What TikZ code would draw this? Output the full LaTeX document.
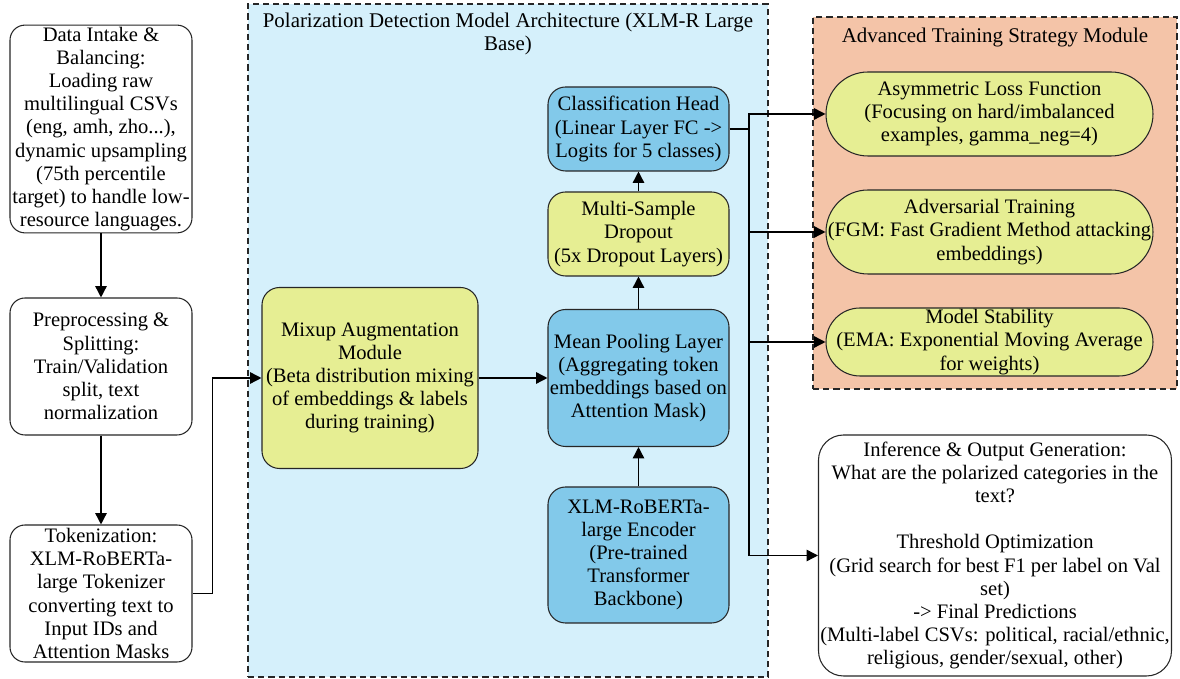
\documentclass[tikz,border=0pt]{standalone}
\usepackage{fontspec}
\setmainfont{Liberation Serif}
\usetikzlibrary{arrows.meta}

\definecolor{zoneblue}{RGB}{213,240,251}
\definecolor{layerblue}{RGB}{130,201,234}
\definecolor{layeryellow}{RGB}{230,238,147}
\definecolor{zoneorange}{RGB}{244,196,168}

\tikzset{
  stage/.style={draw=black!85, line width=0.6pt, rounded corners=0.3cm, fill=white,
    align=center, inner sep=1pt, font=\fontsize{11.7}{13.2}\selectfont},
  bluebox/.style={stage, fill=layerblue, rounded corners=0.35cm},
  yellowbox/.style={stage, fill=layeryellow, rounded corners=0.35cm},
  pill/.style={stage, fill=layeryellow, minimum width=6.54cm},
  zone/.style={draw=black!85, line width=0.8pt, dash pattern=on 3.5pt off 2.3pt, inner sep=0pt},
  zonetitle/.style={align=center, inner sep=0pt, font=\fontsize{11.9}{13.2}\selectfont},
  flow/.style={line width=0.85pt, ->},
}

\begin{document}
\begin{tikzpicture}[>={Triangle[length=6.5pt,width=6.5pt]}]
    \useasboundingbox (0,0) rectangle (23.6,-13.58);

    \node[zone, fill=zoneblue, minimum width=10.4cm, minimum height=13.46cm] (archzone) at (10.16,-6.81) {};
    \node[zonetitle] (archtitle) at (10.16,-0.68) {Polarization Detection Model Architecture (XLM-R Large\\Base)};
    \node[zone, fill=zoneorange, minimum width=7.28cm, minimum height=7.44cm] (trainzone) at (19.90,-4.06) {};
    \node[zonetitle] (traintitle) at (19.90,-0.76) {Advanced Training Strategy Module};

    \node[stage, minimum width=3.64cm, minimum height=4.08cm] (intake) at (2.02,-2.58)
        {Data Intake \&\\Balancing:\\Loading raw\\multilingual CSVs\\(eng, amh, zho...),\\dynamic upsampling\\(75th percentile\\target) to handle low-\\resource languages.};
    \node[stage, minimum width=3.64cm, minimum height=2.74cm] (prep) at (2.02,-7.33)
        {Preprocessing \&\\Splitting:\\Train/Validation\\split, text\\normalization};
    \node[stage, minimum width=3.64cm, minimum height=2.74cm] (token) at (2.02,-11.87)
        {Tokenization:\\XLM-RoBERTa-\\large Tokenizer\\converting text to\\Input IDs and\\Attention Masks};

    \node[yellowbox, minimum width=4.32cm, minimum height=3.62cm] (mixup) at (7.40,-7.56)
        {Mixup Augmentation\\Module\\(Beta distribution mixing\\of embeddings \& labels\\during training)};
    \node[bluebox, minimum width=3.62cm, minimum height=1.68cm] (head) at (12.77,-2.58)
        {Classification Head\\(Linear Layer FC ->\\Logits for 5 classes)};
    \node[yellowbox, minimum width=3.62cm, minimum height=1.68cm] (dropout) at (12.77,-4.68)
        {Multi-Sample\\Dropout\\(5x Dropout Layers)};
    \node[bluebox, minimum width=3.62cm, minimum height=2.74cm] (pool) at (12.77,-7.56)
        {Mean Pooling Layer\\(Aggregating token\\embeddings based on\\Attention Mask)};
    \node[bluebox, minimum width=3.62cm, minimum height=2.72cm] (encoder) at (12.77,-11.10)
        {XLM-RoBERTa-\\large Encoder\\(Pre-trained\\Transformer\\Backbone)};

    \node[pill, minimum height=1.68cm, rounded corners=0.84cm] (asl) at (19.79,-2.28)
        {Asymmetric Loss Function\\(Focusing on hard/imbalanced\\examples, gamma\_neg=4)};
    \node[pill, minimum height=1.68cm, rounded corners=0.84cm] (fgm) at (19.79,-4.64)
        {Adversarial Training\\(FGM: Fast Gradient Method attacking\\embeddings)};
    \node[pill, minimum height=1.36cm, rounded corners=0.68cm, inner sep=0pt] (ema) at (19.79,-6.84)
        {Model Stability\\(EMA: Exponential Moving Average\\for weights)};

    \node[stage, rounded corners=0.5cm, minimum width=6.80cm, minimum height=4.82cm] (infer) at (19.90,-11.11)
        {Inference \& Output Generation:\\What are the polarized categories in the\\text?\\[13.2pt]Threshold Optimization\\(Grid search for best F1 per label on Val\\set)\\-> Final Predictions\\(Multi-label CSVs: political, racial/ethnic,\\religious, gender/sexual, other)};

    \coordinate (bus) at (14.98,-2.58);

    \draw[flow] (intake) -- (prep);
    \draw[flow] (prep) -- (token);
    \draw[flow] (token.east) -- ++(0.4,0) |- (mixup.west);
    \draw[flow] (mixup) -- (pool);
    \draw[flow] (encoder) -- (pool);
    \draw[flow] (pool) -- (dropout);
    \draw[flow] (dropout) -- (head);
    \draw[line width=0.85pt] (head.east) -- (bus);
    \draw[flow] (bus) |- (asl.west);
    \draw[flow] (bus) |- (fgm.west);
    \draw[flow] (bus) |- (ema.west);
    \draw[flow] (bus) |- (infer.west);
\end{tikzpicture}
\end{document}
